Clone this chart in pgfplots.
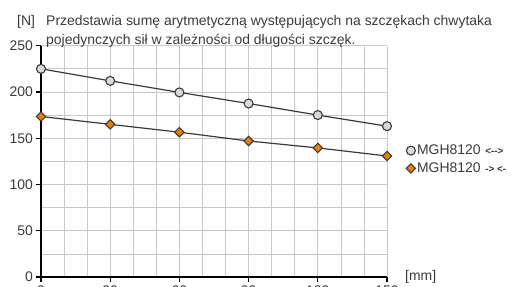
\documentclass[border=0pt]{standalone}
\usepackage{pgfplots}
\pgfplotsset{compat=1.18}
\usepackage{fontspec}
\setmainfont{Liberation Sans}
\definecolor{txt}{HTML}{3A3A3A}
\definecolor{gridc}{HTML}{C8C8C8}
\definecolor{lnc}{HTML}{3A3A3A}
\definecolor{mk1}{HTML}{D9D9D9}
\definecolor{mk2}{HTML}{F07D00}
\begin{document}
\begin{tikzpicture}
\begin{axis}[
  scale only axis, width=346bp, height=231.3bp,
  xmin=0, xmax=150, ymin=0, ymax=250,
  xtick={0,30,...,150}, ytick={0,50,...,250},
  minor xtick={10,20,...,140}, minor ytick={25,75,...,225},
  grid=both,
  grid style={draw=gridc, line width=0.7bp},
  major grid style={draw=gridc, line width=0.7bp},
  minor grid style={draw=gridc, line width=0.7bp},
  axis x line=bottom, axis y line=left,
  axis line style={-, line width=1.5bp, black},
  tick align=outside, major tick length=4.5bp, minor tick length=0pt,
  tick style={black, line width=1.2bp},
  ticklabel style={text=txt, font=\fontsize{14}{14}\selectfont},
  xticklabel style={yshift=-1bp},
  /pgf/number format/assume math mode=true,
  clip=false,
  legend style={at={(1.055,0.578)}, anchor=north west, draw=none, fill=none,
    font=\fontsize{14}{14}\selectfont, text=txt, row sep=3.5bp, inner sep=0pt,
    nodes={inner sep=1.5bp}},
  legend cell align=left,
  legend image code/.code={\path plot[#1, only marks] coordinates {(0.1cm,0cm)};},
]
\addplot[color=lnc, line width=1.2bp, mark=*, mark size=4.5bp,
  mark options={draw=lnc, fill=mk1, line width=1.1bp}]
  coordinates {(0,225) (30,212) (60,199.5) (90,187.5) (120,175) (150,163)};
\addlegendentry{MGH8120\,\,{\fontsize{10}{10}\bfseries <-{}->}}
\addplot[color=lnc, line width=1.2bp, mark=square*, mark size=3.3bp,
  mark options={draw=lnc, fill=mk2, line width=1.1bp, rotate=45}]
  coordinates {(0,173.5) (30,165) (60,156.5) (90,147) (120,139.5) (150,130.8)};
\addlegendentry{MGH8120\,\,{\fontsize{10}{10}\bfseries -> <-}}
\end{axis}
\node[anchor=base west, text=txt, font=\fontsize{14}{14}\selectfont, inner sep=0pt] at (-24bp,251bp) {[N]};
\node[anchor=base west, text=txt, font=\fontsize{14}{14}\selectfont, inner sep=0pt] at (5bp,251bp) {Przedstawia sumę arytmetyczną występujących na szczękach chwytaka};
\node[anchor=base west, text=txt, font=\fontsize{14}{14}\selectfont, inner sep=0pt] at (5bp,232bp) {pojedynczych sił w zależności od długości szczęk.};
\node[anchor=west, text=txt, font=\fontsize{14}{14}\selectfont, inner sep=0pt] at (364bp,0bp) {[mm]};
\pgfresetboundingbox
\useasboundingbox (-41bp,-10bp) rectangle (478bp,277bp);
\end{tikzpicture}
\end{document}
